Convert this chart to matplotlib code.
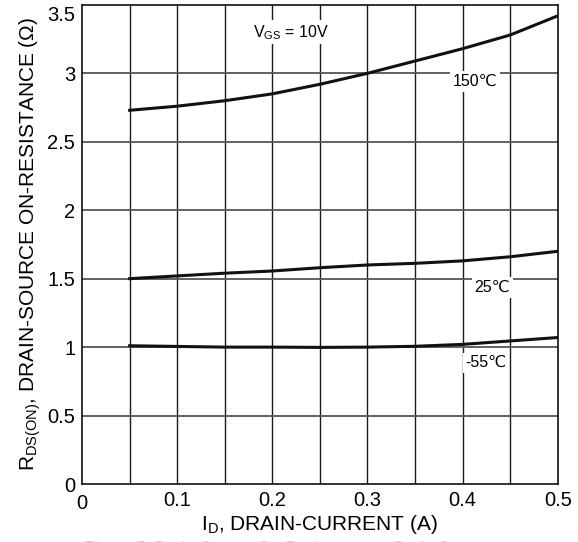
import matplotlib
matplotlib.use("Agg")
import matplotlib.pyplot as plt
import matplotlib.transforms as mtransforms

plt.rcParams['font.family'] = ['Liberation Sans', 'DejaVu Sans']

# drain current (A)
id_a = [0.05, 0.10, 0.15, 0.20, 0.25, 0.30, 0.35, 0.40, 0.45, 0.50]

# on-resistance (ohm) per junction temperature
r_150 = [2.73, 2.76, 2.80, 2.85, 2.92, 3.00, 3.09, 3.18, 3.28, 3.42]
r_25 = [1.50, 1.52, 1.54, 1.556, 1.58, 1.60, 1.612, 1.63, 1.66, 1.70]
r_m55 = [1.01, 1.005, 1.0, 1.0, 0.998, 1.0, 1.006, 1.02, 1.045, 1.07]

xticks = [0, 0.1, 0.2, 0.3, 0.4, 0.5]
xtick_labels = ["0", "0.1", "0.2", "0.3", "0.4", "0.5"]
yticks = [0, 0.5, 1, 1.5, 2, 2.5, 3, 3.5]
ytick_labels = ["0", "0.5", "1", "1.5", "2", "2.5", "3", "3.5"]

fig = plt.figure(figsize=(5.78, 5.42), dpi=100)
ax = fig.add_axes([0.142, 0.107, 0.823, 0.884])

# grid
for gx in [0.05 * i for i in range(1, 10)]:
    ax.axvline(gx, color='#1a1a1a', lw=1.0, zorder=1)
for gy in yticks[1:-1]:
    ax.axhline(gy, color='#555555', lw=1.3, zorder=1)

ax.plot(id_a, r_150, color='#111111', lw=2.2, zorder=3)
ax.plot(id_a, r_25, color='#111111', lw=2.2, zorder=3)
ax.plot(id_a, r_m55, color='#111111', lw=2.2, zorder=3)

box = dict(facecolor='white', edgecolor='none', pad=2)
ax.text(0.2195, 3.30, "V$_{\\mathregular{GS}}$ = 10V", fontsize=11.5, ha='center', va='center', bbox=box, zorder=4)
ax.text(0.413, 2.94, "150\u2103", fontsize=11.5, ha='center', va='center', bbox=box, zorder=4)
ax.text(0.431, 1.434, "25\u2103", fontsize=11.5, ha='center', va='center', bbox=box, zorder=4)
ax.text(0.4245, 0.886, "-55\u2103", fontsize=11.5, ha='center', va='center', bbox=box, zorder=4)

ax.set_xlim(0, 0.5)
ax.set_ylim(0, 3.5)
ax.set_xticks(xticks)
ax.set_xticklabels(xtick_labels)
ax.set_yticks(yticks)
ax.set_yticklabels(ytick_labels)
ax.tick_params(length=0, labelsize=14.5)
ax.tick_params(axis='x', pad=5)
ax.tick_params(axis='y', pad=5)
for s in ax.spines.values():
    s.set_color('#111111')
    s.set_linewidth(1.2)

# top y label sits a bit below its gridline, "0" on x a bit lower
top_lbl = ax.get_yticklabels()[-1]
top_lbl.set_transform(top_lbl.get_transform() + mtransforms.ScaledTranslation(0, -0.09, fig.dpi_scale_trans))
zero_lbl = ax.get_xticklabels()[0]
zero_lbl.set_transform(zero_lbl.get_transform() + mtransforms.ScaledTranslation(0, -0.03, fig.dpi_scale_trans))

ax.set_xlabel("I$_{\\mathregular{D}}$, DRAIN-CURRENT (A)", fontsize=15, labelpad=0)
ax.set_ylabel("R$_{\\mathregular{DS(ON)}}$, DRAIN-SOURCE ON-RESISTANCE (\u03a9)", fontsize=15, labelpad=3)

# faded caption cut at the bottom edge
fig.text(0.5, -0.012, "Figure 7. Drain-Source On-Resistance vs Drain Current",
         fontsize=12, color='#d0d0d0', ha='center', va='center')

fig.savefig("out.png", dpi=100)
